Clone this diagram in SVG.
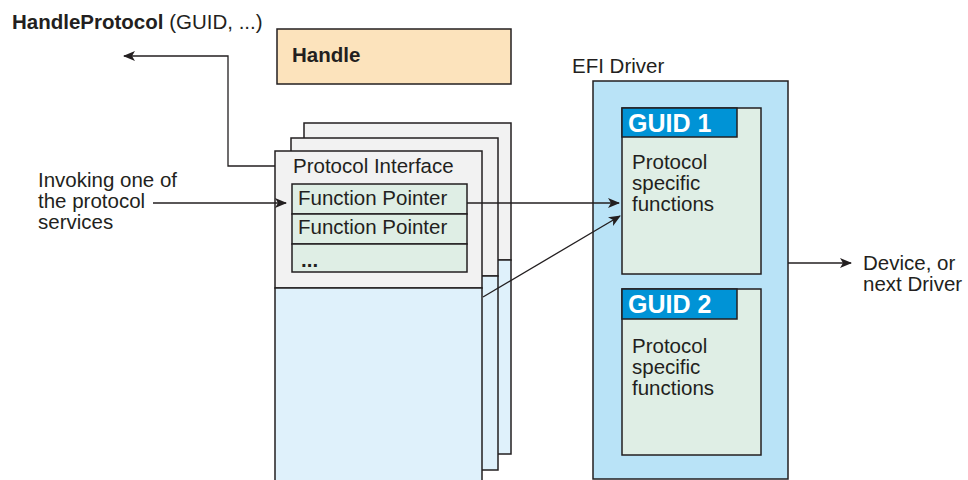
<svg xmlns="http://www.w3.org/2000/svg" width="968" height="480" viewBox="0 0 968 480">
<style>
  text { font-family: "Liberation Sans", Arial, sans-serif; fill: #231f20; font-size: 20.5px; }
  .b { font-weight: bold; }
  .box { stroke: #231f20; stroke-width: 1.5; }
  .gray { fill: #f2f2f2; }
  .lblue { fill: #dff1fb; }
  .green { fill: #dfeee5; }
  .efi { fill: #b9e3f7; }
  .hdr { fill: #0093d6; }
  .hdrt { fill: #ffffff; font-weight: bold; font-size: 25px; }
  .conn { stroke: #231f20; stroke-width: 1.3; fill: none; marker-end: url(#ah); }
</style>
<defs>
  <marker id="ah" markerWidth="12" markerHeight="10" refX="11" refY="5" orient="auto" markerUnits="userSpaceOnUse">
    <path d="M0,0 L12,5 L0,10 L3,5 Z" fill="#231f20"/>
  </marker>
</defs>
<rect width="968" height="480" fill="#ffffff"/>

<g id="handleprotocol-label">
  <text x="12" y="29"><tspan class="b">HandleProtocol</tspan> (GUID, ...)</text>
</g>

<g id="handle">
  <rect x="277" y="29" width="234" height="55" fill="#fce3bc" class="box"/>
  <text x="292" y="62" class="b">Handle</text>
</g>

<g id="protocol-stack">
  <rect x="304" y="123" width="207" height="137" class="box gray"/>
  <rect x="304" y="260" width="207" height="194" class="box lblue"/>
  <rect x="291" y="138" width="207" height="138" class="box gray"/>
  <rect x="291" y="276" width="207" height="194" class="box lblue"/>
  <rect x="275" y="151" width="207" height="137" class="box gray"/>
  <rect x="275" y="288" width="207" height="200" class="box lblue"/>
  <text x="293" y="173">Protocol Interface</text>
  <rect x="292" y="184" width="175" height="30" class="box green"/>
  <rect x="292" y="214" width="175" height="30" class="box green"/>
  <rect x="292" y="244" width="175" height="28" class="box green"/>
  <text x="298" y="205">Function Pointer</text>
  <text x="298" y="234">Function Pointer</text>
  <text x="301" y="267" class="b">...</text>
</g>

<g id="efi-driver">
  <text x="572" y="73">EFI Driver</text>
  <rect x="593" y="81" width="195" height="398" class="box efi"/>
</g>

<g id="guid1">
  <rect x="622" y="108" width="139" height="166" class="box green"/>
  <rect x="622" y="108" width="115" height="29" class="box hdr"/>
  <text x="628" y="132" class="hdrt">GUID 1</text>
  <text x="632" y="169">Protocol</text>
  <text x="632" y="190">specific</text>
  <text x="632" y="211">functions</text>
</g>

<g id="guid2">
  <rect x="622" y="289" width="139" height="166" class="box green"/>
  <rect x="622" y="289" width="115" height="30" class="box hdr"/>
  <text x="628" y="313" class="hdrt">GUID 2</text>
  <text x="632" y="353">Protocol</text>
  <text x="632" y="374">specific</text>
  <text x="632" y="395">functions</text>
</g>

<g id="invoking-label">
  <text x="38" y="187">Invoking one of</text>
  <text x="38" y="208">the protocol</text>
  <text x="38" y="229">services</text>
</g>

<g id="device-label">
  <text x="863" y="270">Device, or</text>
  <text x="863" y="291">next Driver</text>
</g>

<g id="connectors">
  <polyline class="conn" points="275,166 228,166 228,56 124,56"/>
  <line class="conn" x1="153" y1="203" x2="286" y2="203"/>
  <line class="conn" x1="467" y1="203" x2="619" y2="203"/>
  <line class="conn" x1="483" y1="297" x2="620" y2="216"/>
  <line class="conn" x1="788" y1="263" x2="851" y2="263"/>
</g>
</svg>
